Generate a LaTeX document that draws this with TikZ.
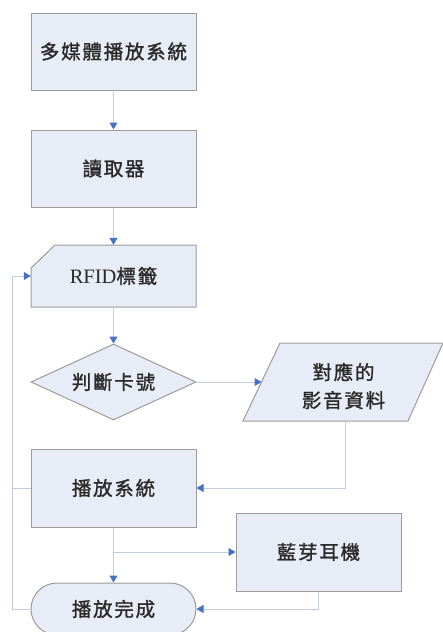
\documentclass[tikz,border=0pt]{standalone}
\usepackage{fontspec}
\setmainfont{Liberation Serif}
\newfontfamily\cjk[LetterSpace=9,FakeBold=1.3]{Noto Sans CJK TC}
\usetikzlibrary{arrows.meta,shapes.geometric}
\definecolor{boxfill}{HTML}{E8ECF6}
\definecolor{boxline}{HTML}{9C9C9C}
\definecolor{conline}{HTML}{C2CCDD}
\definecolor{tipblue}{HTML}{4472C4}
\definecolor{txt}{HTML}{2A2A2A}
\tikzset{
  x=1pt,y=-1pt,
  every node/.style={font=\fontsize{19.5}{28}\selectfont\cjk, text=txt, align=center},
  boxshape/.style={draw=boxline, fill=boxfill, line width=1pt, minimum width=165pt, inner sep=0pt},
  plainbox/.style={boxshape, rectangle, minimum height=77pt},
  conn/.style={draw=conline, line width=1pt},
  arr/.style={conn, -{Triangle[width=8pt,length=7pt,fill=tipblue,color=tipblue]}},
}
\begin{document}
\begin{tikzpicture}
\useasboundingbox[fill=white] (0,0) rectangle (443,632);
% nodes
\node[plainbox] (mm) at (113.5,51.5) {多媒體播放系統};
\node[plainbox] (rd) at (113.5,168.5) {讀取器};
% RFID card shape
\draw[draw=boxline, fill=boxfill, line width=1pt] (55,245) -- (196,245) -- (196,307) -- (31,307) -- (31,268) -- cycle;
\node[minimum width=165pt, minimum height=62pt, inner sep=0pt] (rfid) at (113.5,276) {{\rmfamily\fontsize{20.5}{28}\selectfont RFID}標籤};
\node[boxshape, diamond, minimum height=76pt, shape aspect=2.17] (dec) at (113.5,382) {判斷卡號};
% parallelogram data
\draw[draw=boxline, fill=boxfill, line width=1pt] (280,343) -- (443,343) -- (408,421) -- (243,421) -- cycle;
\node (av) at (343.5,386) {對應的\\影音資料};
\coordinate (avw) at (261.5,382);
\coordinate (avs) at (345,421);
\node[plainbox, minimum height=78pt] (play) at (113.5,488) {播放系統};
\node[plainbox, minimum height=78pt] (bt) at (318.5,552) {藍芽耳機};
\node[boxshape, rectangle, rounded corners=26pt, minimum height=52pt] (done) at (113.5,609) {播放完成};
\coordinate (loopb) at (12,609);
\coordinate (br) at (113.5,552);
% connectors
\draw[arr] (mm.south) -- (rd.north);
\draw[arr] (rd.south) -- (rfid.north);
\draw[arr] (rfid.south) -- (dec.north);
\draw[arr] (dec.east) -- (avw);
\draw[arr] (avs) |- (play.east);
\draw[arr] (done.west) -- (loopb) |- (rfid.west);
\draw[conn] (play.west) -- (play.west -| loopb);
\draw[arr] (play.south) -- (done.north);
\draw[arr] (br) -- (bt.west);
\draw[arr] (bt.south) |- (done.east);
\end{tikzpicture}
\end{document}
